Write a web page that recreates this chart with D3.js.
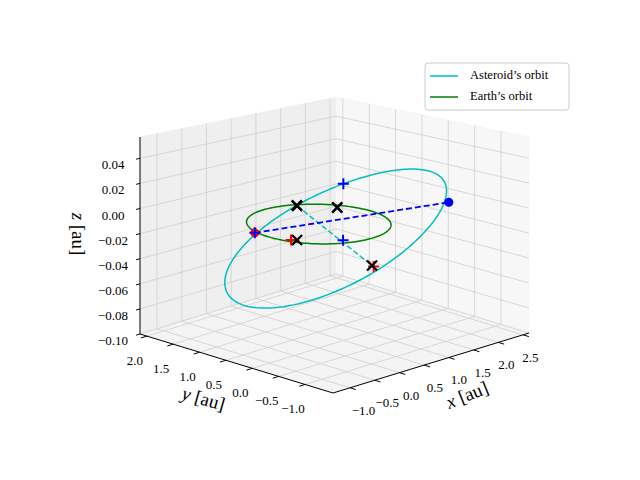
<!DOCTYPE html>
<html><head><meta charset="utf-8">
<script src="https://cdn.jsdelivr.net/npm/d3@7"></script>
<style>body{margin:0;background:#fff}</style>
</head><body>
<svg id="c" width="640" height="480"></svg>
<script>
// ---- data ----
const xTicks = [-1.0,-0.5,0.0,0.5,1.0,1.5,2.0,2.5];
const yTicks = [-1.0,-0.5,0.0,0.5,1.0,1.5,2.0];
const zTicks = [-0.10,-0.08,-0.06,-0.04,-0.02,0.00,0.02,0.04];
const xDomain = [-1.345, 2.62];
const yDomain = [-1.53, 2.13];
const zDomain = [-0.10, 0.057];
const earthOrbit = {a:1.0, e:0.0, incDeg:0, nodeDeg:0, argDeg:0};
const asteroidOrbit = {a:1.68, e:0.43, incDeg:1.6, nodeDeg:242, argDeg:180};
const legendLabels = ["Asteroid\u2019s orbit","Earth\u2019s orbit"];
const legendColors = ["#00bfbf","#008000"];
// markers: [type, color, x, y, z]
const markers = [
  ["dot","red",-0.27,0.96,-0.016],
  ["plus","blue",-0.27,0.96,-0.016],
  ["dot","blue",0.55,-1.95,0.033],
  ["x","black",0.443,0.827,0],
  ["x","black",0.46,0.85,0],
  ["x","black",0.782,0.385,0],
  ["x","black",0.80,0.40,0],
  ["plus","red",-0.877,-0.296,0],
  ["x","black",-0.816,-0.353,0],
  ["plus","blue",-0.351,-0.789,0],
  ["plus","blue",1.03,0.50,0.0158],
  ["plus","red",-0.97,-1.95,0],
  ["x","black",-0.95,-1.90,0]
];
const earthLink = [[-0.27,0.96,-0.016],[0.55,-1.95,0.033]];
const apsides = [[0.443,0.827,0],[-0.95,-1.90,0]];

// ---- projection ----
const xs = d3.scaleLinear().domain(xDomain).range([0,1]);
const ys = d3.scaleLinear().domain(yDomain).range([0,1]);
const zs = d3.scaleLinear().domain(zDomain).range([0,1]);
function projN(u,v,w){
  const h = 200 - 4*u - 3*v - 16*u*v;
  return [333 + 196*u - 193*v, 393 - 60*u - 59*v - w*h];
}
function P(x,y,z){ return projN(xs(x),ys(y),zs(z)); }

const svg = d3.select("#c");
const line = d3.line();
const font = "'Liberation Serif','DejaVu Serif',serif";

// panes
const panes = [
  {pts:[[0,0,0],[1,0,0],[1,1,0],[0,1,0]], fill:"#f4f4f4"},
  {pts:[[0,1,0],[1,1,0],[1,1,1],[0,1,1]], fill:"#efefef"},
  {pts:[[1,0,0],[1,1,0],[1,1,1],[1,0,1]], fill:"#f7f7f7"}
];
panes.forEach(p=>svg.append("path").attr("d",line(p.pts.map(q=>projN(...q)))+"Z")
  .attr("fill",p.fill).attr("stroke","#f0f0f0").attr("stroke-width",0.5));

const g = svg.append("g").attr("stroke","#cfcfcf").attr("stroke-width",0.8).attr("fill","none");
xTicks.forEach(t=>{const u=xs(t);
  g.append("path").attr("d",line([projN(u,0,0),projN(u,1,0),projN(u,1,1)]));});
yTicks.forEach(t=>{const v=ys(t);
  g.append("path").attr("d",line([projN(0,v,0),projN(1,v,0),projN(1,v,1)]));});
zTicks.forEach(t=>{const w=zs(t);
  g.append("path").attr("d",line([projN(0,1,w),projN(1,1,w),projN(1,0,w)]));});

// axis lines
const ax = svg.append("g").attr("stroke","#000").attr("stroke-width",1).attr("fill","none");
ax.append("path").attr("d",line([projN(0,0,0),projN(1,0,0)]));
ax.append("path").attr("d",line([projN(0,0,0),projN(0,1,0)]));
ax.append("path").attr("d",line([projN(0,1,0),projN(0,1,1)]));
const fmt = t => (t<0?"\u2212":"")+Math.abs(t).toFixed(1);
const fmtz = t => (t<0?"\u2212":"")+Math.abs(t).toFixed(2);
const fs = 13;
xTicks.forEach(t=>{const u=xs(t);const a=projN(u,0,0),b=projN(u,-0.03,0);
  ax.append("path").attr("d",line([a,b]));
  svg.append("text").attr("x",a[0]+14-7*u).attr("y",a[1]+24).attr("text-anchor","middle")
    .attr("dominant-baseline","middle").attr("font-family",font).attr("font-size",fs).text(fmt(t));});
yTicks.forEach(t=>{const v=ys(t);const a=projN(0,v,0),b=projN(-0.03,v,0);
  ax.append("path").attr("d",line([a,b]));
  svg.append("text").attr("x",a[0]-12).attr("y",a[1]+26).attr("text-anchor","middle")
    .attr("dominant-baseline","middle").attr("font-family",font).attr("font-size",fs).text(fmt(t));});
zTicks.forEach(t=>{const w=zs(t);const a=projN(0,1,w),b=projN(-0.02,1,w);
  ax.append("path").attr("d",line([a,b]));
  svg.append("text").attr("x",a[0]-27).attr("y",a[1]+8).attr("text-anchor","middle")
    .attr("dominant-baseline","middle").attr("font-family",font).attr("font-size",fs).text(fmtz(t));});

function axTitle(x,y,rot,v){
  const t=svg.append("text").attr("transform",`translate(${x},${y}) rotate(${rot})`)
    .attr("text-anchor","middle").attr("dominant-baseline","middle")
    .attr("font-family",font).attr("font-size",19);
  t.append("tspan").attr("font-style","italic").text(v);
  t.append("tspan").text(" [au]");
}
axTitle(468,397,-22,"x");
axTitle(203,401,16,"y");
axTitle(76,234,90,"z");

// orbits
function orbitPts(o){
  const pts=[], i=o.incDeg*Math.PI/180, O=o.nodeDeg*Math.PI/180, w=o.argDeg*Math.PI/180;
  for(let k=0;k<=360;k+=2){
    const nu=k*Math.PI/180, r=o.a*(1-o.e*o.e)/(1+o.e*Math.cos(nu)), th=w+nu;
    const x=r*(Math.cos(O)*Math.cos(th)-Math.sin(O)*Math.sin(th)*Math.cos(i));
    const y=r*(Math.sin(O)*Math.cos(th)+Math.cos(O)*Math.sin(th)*Math.cos(i));
    const z=r*Math.sin(th)*Math.sin(i);
    pts.push(P(x,y,z));
  }
  return pts;
}
svg.append("path").attr("d",line(orbitPts(asteroidOrbit))).attr("fill","none")
  .attr("stroke",legendColors[0]).attr("stroke-width",1.5);
svg.append("path").attr("d",line(orbitPts(earthOrbit))).attr("fill","none")
  .attr("stroke",legendColors[1]).attr("stroke-width",1.5);
svg.append("path").attr("d",line(apsides.map(p=>P(...p)))).attr("fill","none")
  .attr("stroke","#00bfbf").attr("stroke-width",1.5).attr("stroke-dasharray","5.5,2.5");
svg.append("path").attr("d",line(earthLink.map(p=>P(...p)))).attr("fill","none")
  .attr("stroke","blue").attr("stroke-width",1.8).attr("stroke-dasharray","6,3");

markers.forEach(([t,c,x,y,z])=>{
  const [px,py]=P(x,y,z);
  if(t==="dot") svg.append("circle").attr("cx",px).attr("cy",py).attr("r",4.5).attr("fill",c);
  else if(t==="plus") svg.append("path").attr("d",`M${px-5.5},${py}H${px+5.5}M${px},${py-5.5}V${py+5.5}`)
    .attr("stroke",c).attr("stroke-width",2);
  else svg.append("path").attr("d",`M${px-5},${py-5}L${px+5},${py+5}M${px-5},${py+5}L${px+5},${py-5}`)
    .attr("stroke",c).attr("stroke-width",2.2);
});

// legend
const lg = svg.append("g").attr("transform","translate(425,63)");
lg.append("rect").attr("width",144).attr("height",47).attr("rx",3).attr("fill","#fff")
  .attr("fill-opacity",0.8).attr("stroke","#ccc");
legendLabels.forEach((l,k)=>{
  const y=13+k*21;
  lg.append("line").attr("x1",5).attr("x2",33).attr("y1",y).attr("y2",y)
    .attr("stroke",legendColors[k]).attr("stroke-width",1.5);
  lg.append("text").attr("x",45).attr("y",y).attr("dominant-baseline","middle")
    .attr("font-family",font).attr("font-size",12.5).text(l);
});
</script>
</body></html>
